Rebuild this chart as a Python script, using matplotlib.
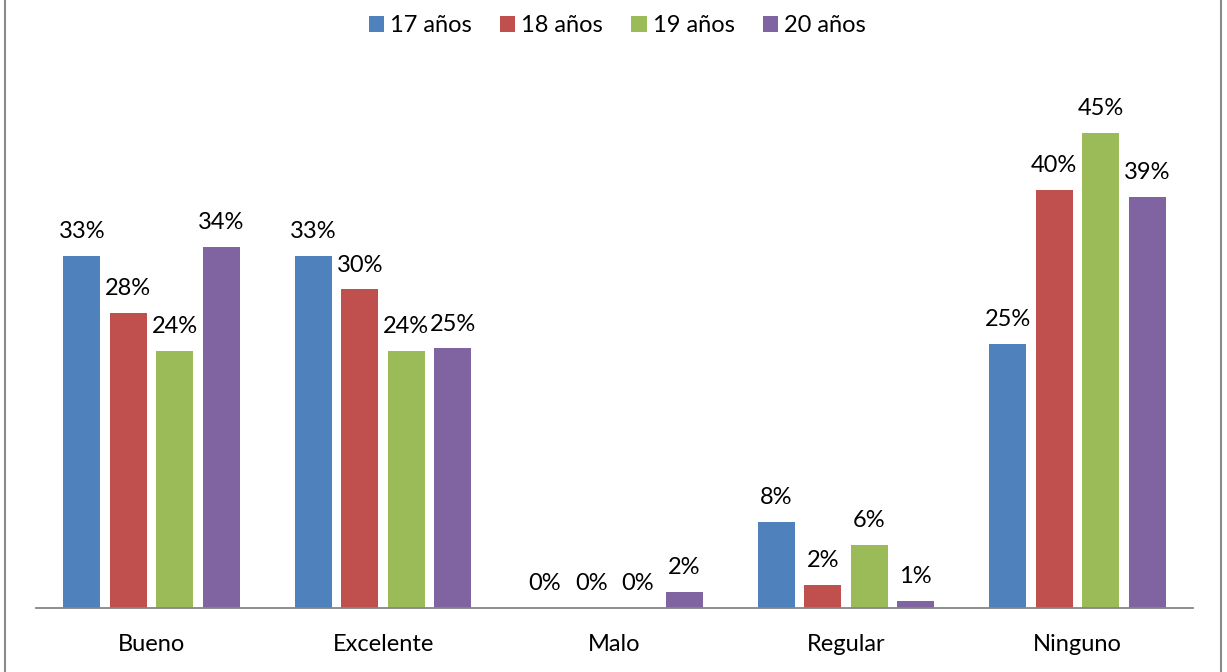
import matplotlib
matplotlib.use("Agg")
import matplotlib.pyplot as plt
from matplotlib.lines import Line2D
from matplotlib.patches import Patch
import numpy as np

plt.rcParams['font.family'] = ['Lato', 'DejaVu Sans']

categories = ["Bueno", "Excelente", "Malo", "Regular", "Ninguno"]
series_names = ["17 años", "18 años", "19 años", "20 años"]
values_17 = [33.4, 33.4, 0.0, 8.2, 25.0]
values_18 = [28.0, 30.2, 0.0, 2.2, 39.6]
values_19 = [24.4, 24.4, 0.0, 6.0, 45.0]
values_20 = [34.2, 24.6, 1.5, 0.7, 39.0]
colors = ["#4F81BD", "#C0504D", "#9BBB59", "#8064A2"]

series = [values_17, values_18, values_19, values_20]

fs = 17

fig = plt.figure(figsize=(12.27, 6.72), dpi=100)
ax = fig.add_axes([0.0293, 0.0952, 0.943, 0.785])

x = np.arange(len(categories))
step = 0.201
width = 0.16
for i, (vals, col) in enumerate(zip(series, colors)):
    pos = x + (i - 1.5) * step
    ax.bar(pos, vals, width=width, color=col, label=series_names[i], zorder=2)
    for xp, v in zip(pos, vals):
        ax.annotate(f"{v:.0f}%", (xp, v), xytext=(0, 10), textcoords="offset points",
                    ha="center", va="bottom", fontsize=fs, color="#000000")

ax.set_xlim(-0.5, len(categories) - 0.5)
ax.set_ylim(0, 50)
ax.set_yticks([])
ax.set_xticks(x)
ax.set_xticklabels(categories, fontsize=fs)
ax.tick_params(axis="x", length=0, pad=19)
for s in ["top", "right", "left"]:
    ax.spines[s].set_visible(False)
ax.spines["bottom"].set_color("#868686")
ax.spines["bottom"].set_linewidth(1.3)

handles = [Patch(facecolor=c, edgecolor="none") for c in colors]
fig.legend(handles, series_names, loc="center", bbox_to_anchor=(0.503, 0.962), ncol=4,
           frameon=False, fontsize=fs, handlelength=0.65, handleheight=0.65,
           handletextpad=0.25, columnspacing=1.2)

# outer chart frame
fig.add_artist(Line2D([5 / 1227, 5 / 1227], [0, 1], color="#8a8a8a", lw=1.5, transform=fig.transFigure))
fig.add_artist(Line2D([1221 / 1227, 1221 / 1227], [0, 1], color="#8a8a8a", lw=1.5, transform=fig.transFigure))

fig.savefig("out.png", dpi=100)
